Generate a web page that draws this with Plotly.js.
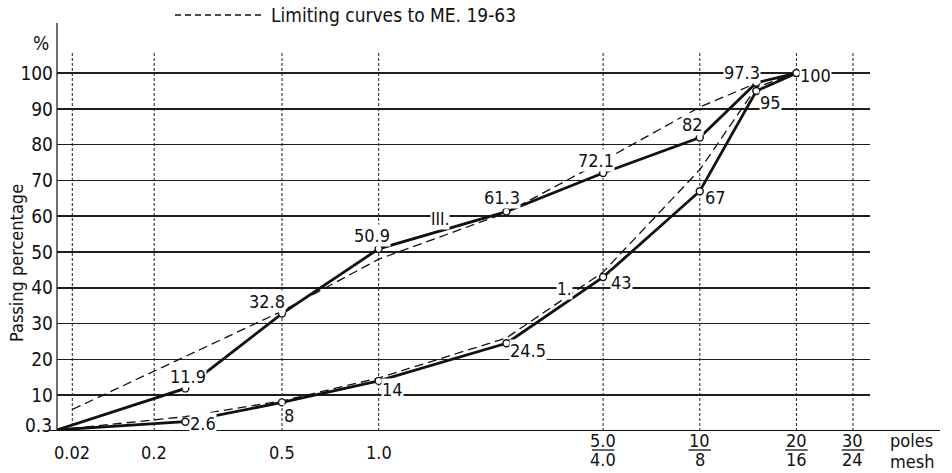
<!DOCTYPE html>
<html>
<head>
<meta charset="utf-8">
<script src="https://cdn.plot.ly/plotly-3.0.1.min.js"></script>
<style>
  html, body { margin: 0; padding: 0; background: #ffffff; }
  #chart { width: 952px; height: 473px; }
</style>
</head>
<body>
<div id="chart"></div>
<script>
// Sieve sizes (mm) of the measured points; the first one is the origin of the chart.
const sieves = [0.013, 0.25, 0.5, 1.0, 2.5, 5.0, 10, 15, 20];
// Grading curve III (upper) and grading curve I (lower), passing percentage.
const curveIII = [0.3, 11.9, 32.8, 50.9, 61.3, 72.1, 82, 97.3, 100];
const curveI = [0.3, 2.6, 8, 14, 24.5, 43, 67, 95, 100];

// Limiting curves of ME 19-63.
const upperLimitSieves = [0.02, 0.5, 1.0, 2.5, 5.0, 10, 15, 20];
const upperLimit = [6, 33.5, 48, 61, 75.5, 90.5, 97.2, 100];
const lowerLimitSieves = [0.013, 0.25, 0.5, 1.0, 2.5, 5.0, 10, 15, 20];
const lowerLimit = [0.3, 4, 8.4, 14.8, 26, 44.4, 73, 96, 100];

// Axis ticks: sieve size (upper text) and mesh number (lower text).
const tickSieves = [0.02, 0.2, 0.5, 1.0, 5.0, 10, 20, 30];
const tickTop = ['0.02', '0.2', '0.5', '1.0', '5.0', '10', '20', '30'];
const tickBottom = ['', '', '', '', '4.0', '8', '16', '24'];
const yTicks = [10, 20, 30, 40, 50, 60, 70, 80, 90, 100];

// Label offsets (pixels) of the value labels relative to their points.
const labelShiftIII = [null, [3, 12], [-15, 12], [-7, 13], [-4, 14], [-7, 12], [-7, 13], [-14, 10], [19, -2]];
const labelShiftI = [null, [18, -2], [7, -13], [14, -9], [22, -7], [18, -5], [16, -6], [14, -11], null];

const FONT = '"DejaVu Sans Condensed", "Liberation Sans Narrow", sans-serif';
const INK = '#111111';

// Horizontal scale: logarithmic above 0.2 mm, compressed below it.
const BREAK = 0.2;
const SHRINK = 0.255;
function pos(d) {
  const l = Math.log10(d);
  const b = Math.log10(BREAK);
  return l >= b ? l : b - SHRINK * (b - l);
}

// Plot box in pixels.
const W = 952, H = 473;
const L = 57, R = 870, T = 23, B = 431;
const xMin = pos(sieves[0]);
const xMax = pos(30) + 0.053;
const yMax = 114;
const pxX = x => (x - L) / (R - L);
const pxY = y => (B - y) / (B - T);

const traces = [];
function curve(xs, ys, dashed) {
  traces.push({
    type: 'scatter', mode: 'lines', hoverinfo: 'skip', showlegend: false,
    x: xs.map(pos), y: ys,
    line: dashed ? {color: INK, width: 1.3, dash: '9px,5px'} : {color: INK, width: 2.8}
  });
}
curve(upperLimitSieves, upperLimit, true);
curve(lowerLimitSieves, lowerLimit, true);
curve(sieves, curveIII, false);
curve(sieves, curveI, false);
[curveIII, curveI].forEach(ys => {
  traces.push({
    type: 'scatter', mode: 'markers', hoverinfo: 'skip', showlegend: false,
    x: sieves.slice(1).map(pos), y: ys.slice(1),
    marker: {symbol: 'circle', size: 7, color: '#ffffff', line: {color: INK, width: 1.4}}
  });
});

const annotations = [];
const shapes = [];

function note(o) {
  annotations.push(Object.assign({showarrow: false, xanchor: 'center', yanchor: 'middle',
    font: {family: FONT, size: 18, color: INK}}, o));
}

function valueLabels(ys, shifts) {
  ys.forEach((v, i) => {
    const s = shifts[i];
    if (!s) return;
    note({x: pos(sieves[i]), y: v, xref: 'x', yref: 'y', text: String(v),
      xshift: s[0], yshift: s[1], bgcolor: '#ffffff', borderpad: 0});
  });
}
valueLabels(curveIII, labelShiftIII);
valueLabels(curveI, labelShiftI);

// Curve names.
note({x: pos(1.55), y: 60, xref: 'x', yref: 'y', text: 'III.', yshift: -3,
  bgcolor: '#ffffff', borderpad: 0, font: {family: FONT, size: 17, color: INK}});
note({x: pos(3.8), y: 40, xref: 'x', yref: 'y', text: '1.', yshift: -1,
  bgcolor: '#ffffff', borderpad: 0, font: {family: FONT, size: 17, color: INK}});

// Vertical grid lines and the sieve / mesh labels underneath.
tickSieves.forEach((d, i) => {
  shapes.push({type: 'line', layer: 'below', xref: 'x', yref: 'y',
    x0: pos(d), x1: pos(d), y0: 0, y1: 106,
    line: {color: '#333333', width: 1.1, dash: '3px,2px'}});
  if (tickBottom[i]) {
    note({x: pos(d), y: pxY(441), xref: 'x', yref: 'paper', text: tickTop[i]});
    note({x: pos(d), y: pxY(459), xref: 'x', yref: 'paper', text: tickBottom[i]});
    shapes.push({type: 'line', xref: 'x', yref: 'paper', x0: pos(d) - 0.035, x1: pos(d) + 0.035,
      y0: pxY(450), y1: pxY(450), line: {color: INK, width: 1.3}});
  } else {
    note({x: pos(d), y: pxY(452), xref: 'x', yref: 'paper', text: tickTop[i]});
  }
});

note({x: pxX(888), y: pxY(441), xref: 'paper', yref: 'paper', text: 'poles', xanchor: 'left'});
note({x: pxX(888), y: pxY(461), xref: 'paper', yref: 'paper', text: 'mesh', xanchor: 'left'});

// Axis frame.
shapes.push({type: 'line', xref: 'paper', yref: 'y', x0: pxX(50), x1: pxX(940), y0: 0, y1: 0,
  line: {color: INK, width: 2.2}});
shapes.push({type: 'line', xref: 'paper', yref: 'paper', x0: 0, x1: 0, y0: 0, y1: 1,
  line: {color: '#222222', width: 1.3}});

// Y labels that sit apart from the regular ticks.
note({x: pxX(54), y: 0.3, xref: 'paper', yref: 'y', text: '0.3', xanchor: 'right',
  yshift: 5, font: {family: FONT, size: 19, color: INK}});
note({x: pxX(41), y: pxY(43), xref: 'paper', yref: 'paper', text: '%',
  font: {family: FONT, size: 19, color: INK}});
note({x: pxX(16), y: pxY(263), xref: 'paper', yref: 'paper', text: 'Passing percentage',
  textangle: -90});

// Key for the dashed limiting curves.
shapes.push({type: 'line', xref: 'paper', yref: 'paper', x0: pxX(175), x1: pxX(263),
  y0: pxY(15), y1: pxY(15), line: {color: INK, width: 1.4, dash: '6px,4px'}});
note({x: pxX(269), y: pxY(15), xref: 'paper', yref: 'paper', xanchor: 'left',
  text: 'Limiting curves to ME. 19-63', font: {family: FONT, size: 19, color: INK}});

const layout = {
  width: W, height: H,
  margin: {l: L, r: W - R, t: T, b: H - B, pad: 0},
  paper_bgcolor: '#ffffff', plot_bgcolor: '#ffffff',
  showlegend: false,
  xaxis: {range: [xMin, xMax], showgrid: false, zeroline: false, showline: false,
    showticklabels: false, ticks: ''},
  yaxis: {range: [0, yMax], tickvals: yTicks, ticktext: yTicks.map(String),
    showgrid: true, gridcolor: '#1e1e1e', gridwidth: 1.6, zeroline: false, showline: false,
    ticks: '', ticklabelstandoff: 3, tickfont: {family: FONT, size: 19, color: INK}},
  shapes: shapes,
  annotations: annotations
};

Plotly.newPlot('chart', traces, layout, {staticPlot: true, displayModeBar: false});
</script>
</body>
</html>
